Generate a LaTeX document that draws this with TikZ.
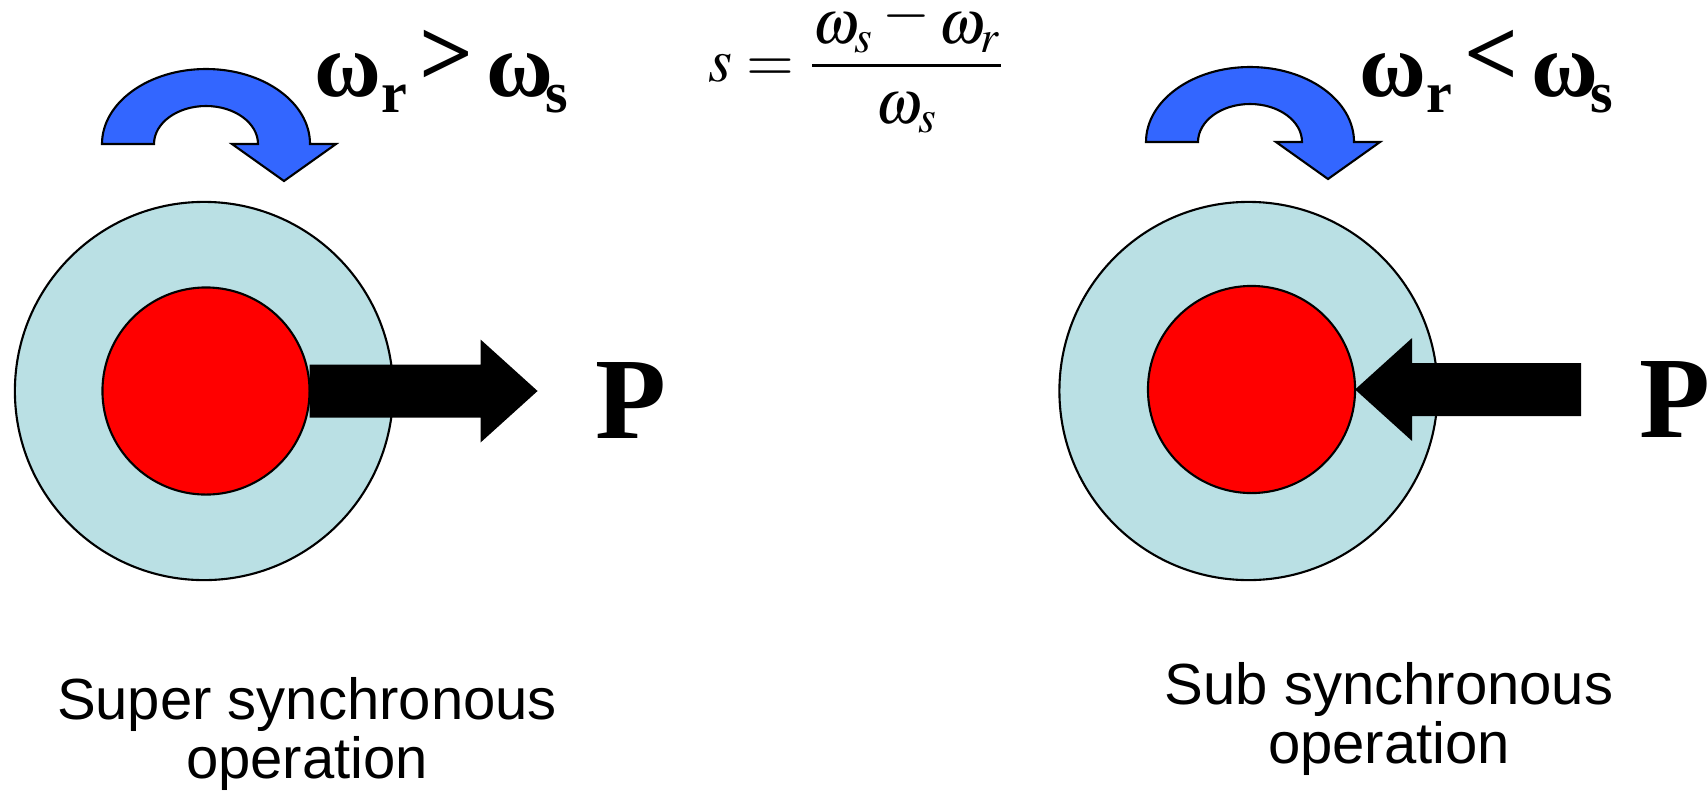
\documentclass[tikz,border=0pt]{standalone}
\usepackage{amsmath}
\usepackage{mathptmx}
\usepackage[no-math]{fontspec}
\setmainfont{Liberation Serif}
\newfontfamily\arialfont{Liberation Sans}
\usepackage{xcolor}
\usepackage{tikz}
\usetikzlibrary{positioning}

\definecolor{statore}{RGB}{186,224,228}
\definecolor{freccia}{RGB}{51,102,255}
\newcommand{\omg}{{\fontsize{26}{28}\selectfont ω}}
\newcommand{\pedice}[1]{\lower4.6pt\hbox{\fontsize{16.5}{16.5}\selectfont #1}}
\newcommand{\confr}[1]{\kern3.4pt\raise3pt\hbox{\fontsize{27}{28}\selectfont #1}\kern3.6pt}

\begin{document}
\begin{tikzpicture}[
      x=0.01cm, y=-0.01cm,
      bordo/.style={draw=black, line width=0.6pt},
      stat/.style={circle, bordo, fill=statore, minimum size=3.78cm, inner sep=0pt, outer sep=0pt},
      rot/.style={circle, bordo, fill=red, minimum size=2.07cm, inner sep=0pt, outer sep=0pt},
      vel/.style={font=\bfseries\fontsize{24}{28}\selectfont, inner sep=0pt, anchor=base west},
      potenza/.style={font=\bfseries\fontsize{33}{38}\selectfont, inner sep=0pt, anchor=base west},
      didascalia/.style={font=\arialfont\fontsize{16.5}{16.5}\selectfont, align=center, inner sep=0pt, anchor=base}
    ]
    \useasboundingbox (0,0) rectangle (1707,797);

    % Statore e rotore
    \node[stat] (statL) at (204,391) {};
    \node[rot] (rotL) at (206,391) {};
    \node[stat] (statR) at (1248.5,391) {};
    \node[rot] (rotR) at (1251.5,389.5) {};

    % Frecce di rotazione
    \foreach \cx/\cy in {206/144, 1250/142}
      \filldraw[bordo, fill=freccia] (\cx-104,\cy) arc[start angle=180, end angle=360, x radius=104, y radius=75]
        -- ++(26,0) -- (\cx+78,\cy+37) -- (\cx+26,\cy) -- (\cx+52,\cy)
        arc[start angle=360, end angle=180, x radius=52, y radius=38] -- cycle;

    % Velocita'
    \node[vel] (wL) at (314,96) {\omg\pedice{r}\confr{>}\omg\kern-2pt\pedice{s}};
    \node[vel] (wR) at (1359,96) {\omg\pedice{r}\confr{<}\omg\kern-2pt\pedice{s}};

    % Scorrimento
    \node[anchor=base west, inner sep=0pt, font=\fontsize{17.5}{21}\selectfont] (slip) at (708,81)
      {$\displaystyle s = \frac{\raisebox{-1.1pt}[0pt][0pt]{$\displaystyle\omega_s \mathbin{\raisebox{3.4pt}{$-$}} \omega_r$}}{\omega_s}$};

    % Potenza
    \node[potenza] (pL) at (595,438) {P};
    \node[potenza] (pR) at (1639,437) {P};
    \fill (rotL.east) ++(0,-26.5) -- ++(171,0) -- ++(0,-25) -- ++(57,51.5) -- ++(-57,51.5) -- ++(0,-25) -- ++(-171,0) -- cycle;
    \fill (rotR.east) -- ++(57,-51.5) -- ++(0,25) -- ++(169,0) -- ++(0,53) -- ++(-169,0) -- ++(0,25) -- cycle;

    % Didascalie
    \node[didascalia] (capL) at (307,778) {Super synchronous\\operation};
    \node[didascalia] (capR) at (1389,763) {Sub synchronous\\operation};
\end{tikzpicture}
\end{document}
